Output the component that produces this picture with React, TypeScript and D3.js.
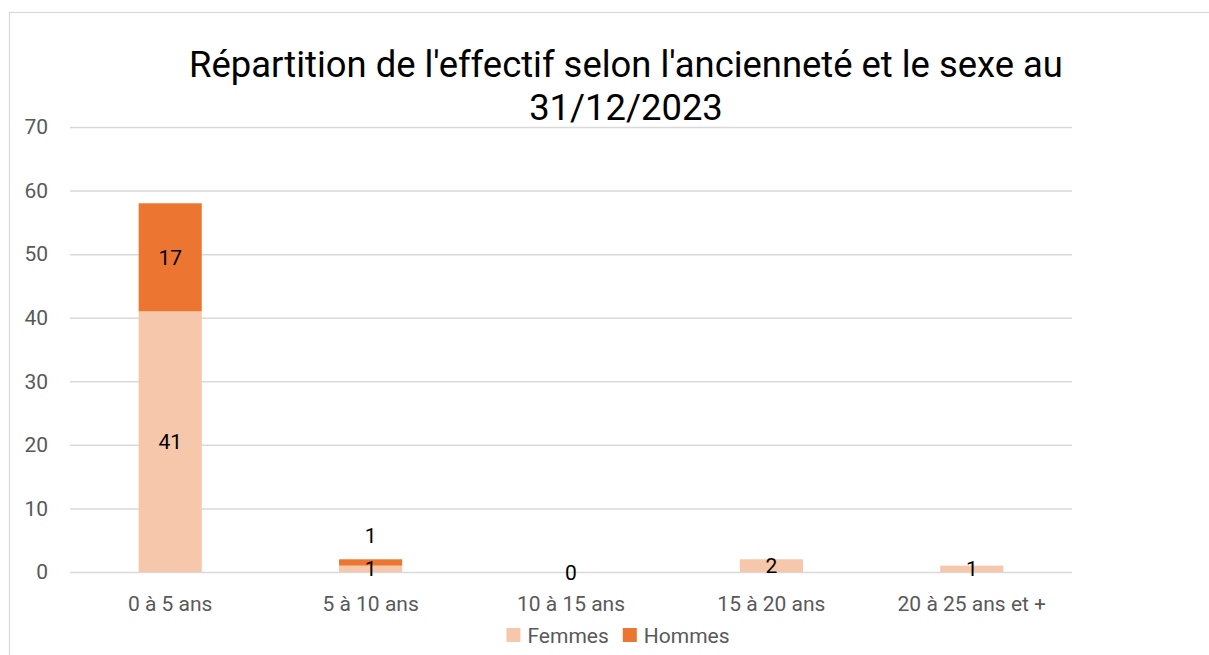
import React, { useEffect, useRef } from "react";
import * as d3 from "d3";

// data
const categories = ["0 à 5 ans", "5 à 10 ans", "10 à 15 ans", "15 à 20 ans", "20 à 25 ans et +"];
const femmes = [41, 1, 0, 2, 1];
const hommes = [17, 1, 0, 0, 0];
const seriesNames = ["Femmes", "Hommes"];
const seriesColors = ["#F6C7AB", "#ED7532"];
const yTicks = [0, 10, 20, 30, 40, 50, 60, 70];
const titleLines = ["Répartition de l'effectif selon l'ancienneté et le sexe au", "31/12/2023"];

const W = 1209;
const H = 655;
const FONT = "Roboto, 'Open Sans', sans-serif";
const LABEL_SIZE = 21;

function App() {
  const svgRef = useRef<SVGSVGElement>(null);

  useEffect(() => {
    const svg = d3.select(svgRef.current);
    svg.selectAll("*").remove();

    const margin = { left: 70, right: 137, top: 127, bottom: 83 };
    const plotW = W - margin.left - margin.right;
    const plotH = H - margin.top - margin.bottom;

    const rows = categories.map((c, i) => ({ cat: c, Femmes: femmes[i], Hommes: hommes[i] }));
    const layers = d3.stack<any>().keys(seriesNames)(rows);

    const x = d3.scaleBand().domain(categories).range([0, plotW]).paddingInner(0.685).paddingOuter(0.3425);
    const y = d3.scaleLinear().domain([0, 70]).range([plotH, 0]);

    // chart border
    svg.append("rect")
      .attr("x", 9.5).attr("y", 12.5)
      .attr("width", W).attr("height", H)
      .attr("fill", "none").attr("stroke", "#D9D9D9").attr("stroke-width", 1.2);

    // title
    svg.append("g")
      .selectAll("text")
      .data(titleLines)
      .join("text")
      .attr("x", 626)
      .attr("y", (_d, i) => 77 + i * 43)
      .attr("text-anchor", "middle")
      .attr("font-family", FONT)
      .attr("font-size", 36.4)
      .attr("fill", "#000")
      .text(d => d);

    const g = svg.append("g").attr("transform", `translate(${margin.left},${margin.top})`);

    // gridlines + y labels
    const yAxis = d3.axisLeft(y).tickValues(yTicks).tickSize(-plotW).tickPadding(22);
    g.append("g").call(yAxis).call(ax => {
      ax.select(".domain").remove();
      ax.selectAll(".tick line").attr("stroke", "#D9D9D9").attr("stroke-width", 1.5);
      ax.selectAll(".tick text")
        .attr("font-family", FONT).attr("font-size", LABEL_SIZE).attr("fill", "#595959");
    });

    // bars
    g.selectAll(".layer")
      .data(layers)
      .join("g")
      .attr("class", "layer")
      .attr("fill", (_d, i) => seriesColors[i])
      .selectAll("rect")
      .data(d => d)
      .join("rect")
      .attr("x", d => x(d.data.cat)!)
      .attr("width", x.bandwidth())
      .attr("y", d => y(d[1]))
      .attr("height", d => y(d[0]) - y(d[1]));

    // data labels
    const labels: { cx: number; cy: number; v: number }[] = [];
    layers.forEach((layer, li) => {
      layer.forEach((d, ci) => {
        const v = d[1] - d[0];
        const total = femmes[ci] + hommes[ci];
        if (v === 0 && !(total === 0 && li === 0)) return;
        const cx = x(d.data.cat)! + x.bandwidth() / 2;
        let cy = y((d[0] + d[1]) / 2);
        // small top segment sitting on another label: push above the bar
        if (li > 0 && femmes[ci] > 0 && y(d[0]) - y(d[1]) < 20) cy = y(d[1]) - 24;
        labels.push({ cx, cy, v });
      });
    });
    g.append("g")
      .selectAll("text")
      .data(labels)
      .join("text")
      .attr("x", d => d.cx)
      .attr("y", d => d.cy)
      .attr("dy", "0.36em")
      .attr("text-anchor", "middle")
      .attr("font-family", FONT)
      .attr("font-size", LABEL_SIZE)
      .attr("fill", "#000")
      .text(d => d.v);

    // x labels
    g.append("g")
      .selectAll("text")
      .data(categories)
      .join("text")
      .attr("x", d => x(d)! + x.bandwidth() / 2)
      .attr("y", plotH + 39)
      .attr("text-anchor", "middle")
      .attr("font-family", FONT)
      .attr("font-size", LABEL_SIZE)
      .attr("fill", "#595959")
      .text(d => d);

    // legend
    const legend = svg.append("g").attr("transform", "translate(0,628)");
    const items = legend.selectAll("g")
      .data(seriesNames)
      .join("g");
    items.append("rect")
      .attr("width", 14).attr("height", 14)
      .attr("fill", (_d, i) => seriesColors[i]);
    items.append("text")
      .attr("x", 21).attr("y", 7).attr("dy", "0.36em")
      .attr("font-family", FONT).attr("font-size", LABEL_SIZE).attr("fill", "#595959")
      .text(d => d);
    const widths = items.nodes().map(n => (n as SVGGElement).getBBox().width);
    const gap = 14;
    const totalW = d3.sum(widths) + gap * (widths.length - 1);
    let cursor = 618 - totalW / 2;
    items.attr("transform", (_d, i) => {
      const t = `translate(${cursor},0)`;
      cursor += widths[i] + gap;
      return t;
    });
  }, []);

  return (
    <svg
      ref={svgRef}
      width={W}
      height={H}
      style={{ position: "absolute", left: 0, top: 0, background: "#fff", display: "block" }}
    />
  );
}

export default App;
